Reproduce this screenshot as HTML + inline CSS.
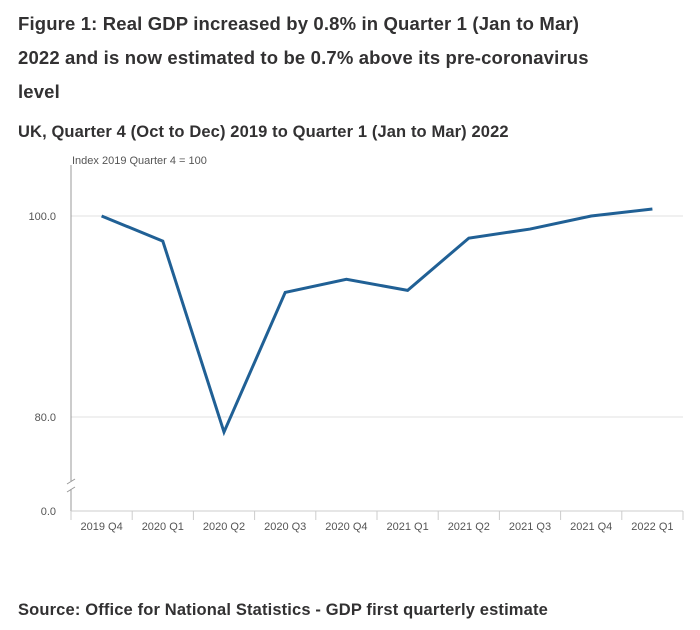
<!DOCTYPE html>
<html><head><meta charset="utf-8"><style>
body{margin:0;background:#fff;font-family:"Liberation Sans",sans-serif;}
#wrap{position:relative;width:700px;height:630px;overflow:hidden;}
h1{position:absolute;left:18px;top:7px;margin:0;font-size:18.5px;line-height:34px;font-weight:bold;color:#323132;width:600px;letter-spacing:0.15px;}
h2{position:absolute;left:18px;top:123px;margin:0;font-size:16.5px;font-weight:bold;color:#323132;letter-spacing:0.12px;}
.src{position:absolute;left:18px;top:601px;font-size:16.5px;font-weight:bold;color:#323132;letter-spacing:0.15px;}
</style></head><body><div id="wrap">
<h1>Figure 1: Real GDP increased by 0.8% in Quarter 1 (Jan to Mar) 2022 and is now estimated to be 0.7% above its pre&#8209;coronavirus level</h1>
<h2>UK, Quarter 4 (Oct to Dec) 2019 to Quarter 1 (Jan to Mar) 2022</h2>
<svg id="chart" width="700" height="630" style="position:absolute;left:0;top:0"></svg>
<div class="src">Source: Office for National Statistics - GDP first quarterly estimate</div>
</div>
<script>
const categories=["2019 Q4","2020 Q1","2020 Q2","2020 Q3","2020 Q4","2021 Q1","2021 Q2","2021 Q3","2021 Q4","2022 Q1"];
const gdpValues=[100.0,97.5,78.5,92.4,93.7,92.6,97.8,98.7,100.0,100.7];
const yTicks=[80,100];
const yTickLabels=["80.0","100.0"];
const NS="http://www.w3.org/2000/svg";
const svg=document.getElementById('chart');
const L=71,R=683,Y0=511;
const band=(R-L)/categories.length;
function x(i){return L+band*(i+0.5);}
function y(v){return 216+(100-v)*10.05;}
function mk(t,a,txt){const e=document.createElementNS(NS,t);for(const k in a)e.setAttribute(k,a[k]);if(txt!==undefined)e.textContent=txt;svg.appendChild(e);return e;}
yTicks.forEach((v,i)=>{
 const g=mk('line',{x1:L,x2:R,y1:y(v),y2:y(v),stroke:'#e0e0e0','stroke-width':1});
 
 
 const t=mk('text',{x:56,y:y(v)+4,'text-anchor':'end','font-size':11,fill:'#555'},yTickLabels[i]);
 
 
});
const z=mk('text',{x:56,y:Y0+4,'text-anchor':'end','font-size':11,fill:'#555'},"0.0");


const ya=mk('path',{d:`M${L},165V481M${L},489V${Y0}`,stroke:'#999',fill:'none'});


const br=mk('path',{d:`M${L-4},484L${L+4},479M${L-4},492L${L+4},487`,stroke:'#999',fill:'none'});


const xa=mk('line',{x1:L,x2:R,y1:Y0,y2:Y0,stroke:'#ccc'});


const yt=mk('text',{x:72,y:164,'font-size':11,fill:'#555'},"Index 2019 Quarter 4 = 100");


categories.forEach((c,i)=>{
 const tk=mk('line',{x1:L+band*i,x2:L+band*i,y1:Y0,y2:Y0+9,stroke:'#ccc'});
 
 
 const t=mk('text',{x:x(i),y:Y0+19,'text-anchor':'middle','font-size':11,fill:'#555'},c);
 
 
});
const tk2=mk('line',{x1:R,x2:R,y1:Y0,y2:Y0+9,stroke:'#ccc'});


const line=mk('polyline',{points:gdpValues.map((v,i)=>x(i)+','+y(v)).join(' '),fill:'none',stroke:'#206095','stroke-width':3,'stroke-linejoin':'miter'});


</script></body></html>
